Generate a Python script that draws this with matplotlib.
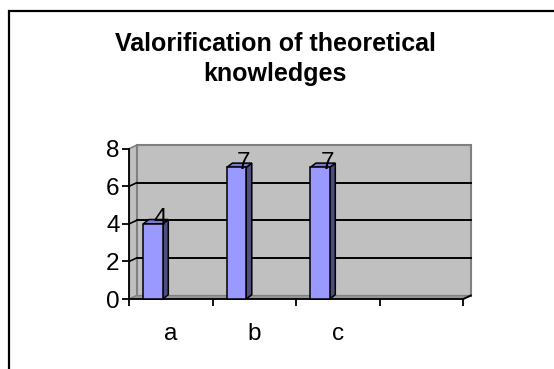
import matplotlib
matplotlib.use("Agg")
import matplotlib.pyplot as plt
from matplotlib.patches import Rectangle, Polygon
from matplotlib.ticker import FixedLocator, NullFormatter, FixedFormatter

plt.rcParams['font.family'] = ['Liberation Sans', 'DejaVu Sans']

# ---- data ----
title_lines = ["Valorification of theoretical", "knowledges"]
categories = ["a", "b", "c", ""]
values = [4, 7, 7]
yticks = [0, 2, 4, 6, 8]

W_PX, H_PX = 554, 369
fig = plt.figure(figsize=(W_PX / 100, H_PX / 100), dpi=100)

# outer frame (chart area border), right and bottom edges fall outside the picture
fig.patches.append(Rectangle((9 / W_PX, -0.2), 1.2, 1.2 - 11 / H_PX, transform=fig.transFigure,
                             fill=False, edgecolor='black', linewidth=1.6, zorder=0))

# axes placed on the front axis lines
L, R, T, B = 129.3, 463.3, 148.6, 299.0
ax = fig.add_axes([L / W_PX, (H_PX - B) / H_PX, (R - L) / W_PX, (B - T) / H_PX])
ax.set_xlim(0, len(categories))
ax.set_ylim(0, 8)
ax.patch.set_visible(False)

xu = (R - L) / len(categories)   # px per x unit
yu = (B - T) / 8.0               # px per y unit

# wall depth offsets
dxw, dyw = 7.5 / xu, 3.5 / yu
ncat = len(categories)

# back wall
ax.add_patch(Rectangle((dxw, dyw), ncat, 8, facecolor='#C0C0C0', edgecolor='#808080',
                       linewidth=1.5, zorder=1, clip_on=False))
# side wall
ax.add_patch(Polygon([(0, 0), (dxw, dyw), (dxw, 8 + dyw), (0, 8)], closed=True,
                     facecolor='#C0C0C0', edgecolor='#808080', linewidth=1.2, zorder=1, clip_on=False))
# floor
ax.add_patch(Polygon([(0, 0), (ncat, 0), (ncat + dxw, dyw), (dxw, dyw)], closed=True,
                     facecolor='#969696', edgecolor='#808080', linewidth=0.8, zorder=1, clip_on=False))

# gridlines on back wall and side wall
for v in yticks[1:-1]:
    ax.plot([dxw, ncat + dxw], [v + dyw, v + dyw], color='black', linewidth=1.4, zorder=2, clip_on=False)
    ax.plot([0, dxw], [v, v + dyw], color='black', linewidth=1.2, zorder=2, clip_on=False)
# right-end diagonal of category axis
ax.plot([ncat, ncat + dxw], [0, dyw], color='black', linewidth=1.4, zorder=3, clip_on=False)

# bars (pseudo 3D)
bw = 19.4 / xu
boff = 14.0 / xu
bdx, bdy = 5.6 / xu, 4.3 / yu
for i, v in enumerate(values):
    x0 = i + boff
    x1 = x0 + bw
    ax.add_patch(Polygon([(x1, 0), (x1 + bdx, bdy), (x1 + bdx, v + bdy), (x1, v)], closed=True,
                         facecolor='#4D4D80', edgecolor='black', linewidth=1.1, zorder=4, clip_on=False))
    ax.add_patch(Polygon([(x0, v), (x1, v), (x1 + bdx, v + bdy), (x0 + bdx, v + bdy)], closed=True,
                         facecolor='#7A7ACC', edgecolor='black', linewidth=1.1, zorder=4, clip_on=False))
    ax.add_patch(Rectangle((x0, 0), bw, v, facecolor='#9999FF', edgecolor='black',
                           linewidth=1.1, zorder=5, clip_on=False))
    ax.text(x0 + bw / 2 + 7.0 / xu, v + 4.5 / yu, str(v), ha='center', va='center',
            fontsize=17.5, color='black', zorder=6)

# axes spines / ticks
for s in ['top', 'right']:
    ax.spines[s].set_visible(False)
for s in ['left', 'bottom']:
    ax.spines[s].set_linewidth(1.3)
    ax.spines[s].set_zorder(3)
ax.set_yticks(yticks)
ax.set_yticklabels([str(t) for t in yticks])
ax.tick_params(axis='y', direction='out', length=5, width=1.3, labelsize=17.5, pad=2)
ax.xaxis.set_major_locator(FixedLocator(list(range(ncat + 1))))
ax.xaxis.set_major_formatter(NullFormatter())
ax.xaxis.set_minor_locator(FixedLocator([i + 0.5 for i in range(ncat)]))
ax.xaxis.set_minor_formatter(FixedFormatter(categories))
ax.tick_params(axis='x', which='minor', length=0, labelsize=17.5, pad=17)
ax.tick_params(axis='x', which='major', direction='out', length=5, width=1.3)

# title
fig.text(275 / W_PX, 1 - 51 / H_PX, title_lines[0], ha='center', va='baseline',
         fontsize=18, fontweight='bold')
fig.text(275 / W_PX, 1 - 81 / H_PX, title_lines[1], ha='center', va='baseline',
         fontsize=18, fontweight='bold')

fig.savefig("out.png", dpi=100)
